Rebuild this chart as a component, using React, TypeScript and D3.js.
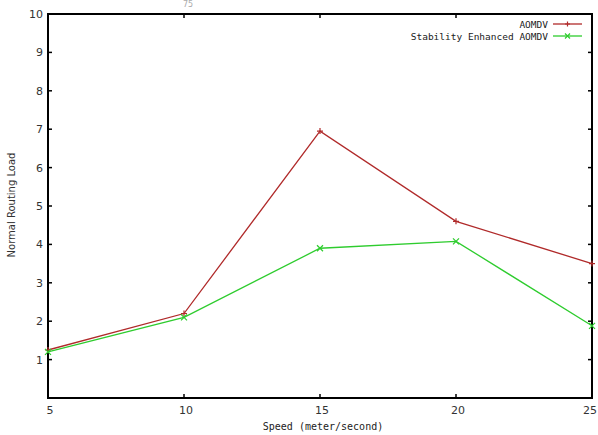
import React from "react";
import * as d3 from "d3";

const speeds = [5, 10, 15, 20, 25];
const aomdv = [1.25, 2.2, 6.95, 4.6, 3.5];
const stability = [1.2, 2.1, 3.9, 4.08, 1.88];
const xTicks = [5, 10, 15, 20, 25];
const yTicks = [1, 2, 3, 4, 5, 6, 7, 8, 9, 10];
const seriesNames = ["AOMDV", "Stability Enhanced AOMDV"];
const seriesColors = ["#b02a2a", "#2ecc2e"];

const W = 598, H = 435;
const L = 48, R = 592, T = 14, B = 398;

export default function App() {
  const x = d3.scaleLinear().domain([5, 25]).range([L, R]);
  const y = d3.scaleLinear().domain([0, 10]).range([B, T]);
  const line = d3.line<number>().x((_, i) => x(speeds[i])).y((d) => y(d));
  const series = [aomdv, stability];
  const tl = 4;
  const mono = "'DejaVu Sans Mono', monospace";
  const sans = "'DejaVu Sans', sans-serif";
  return (
    <svg width={W} height={H} style={{ position: "absolute", left: 0, top: 0, background: "#fff" }}>
      <rect x={0} y={0} width={W} height={H} fill="#fff" />
      <text x={188} y={7} fontFamily={sans} fontSize={8} fill="#aaa" textAnchor="middle">75</text>
      {/* ticks */}
      {xTicks.map((t, i) => {
        const last = i === xTicks.length - 1;
        return (
          <g key={"x" + t}>
            <line x1={x(t)} x2={x(t)} y1={B} y2={B - tl} stroke="#000" strokeWidth={1.5} />
            <line x1={x(t)} x2={x(t)} y1={T} y2={T + tl} stroke="#000" strokeWidth={1.5} />
            <text x={last ? W - 1 : x(t) + 2} y={414} fontFamily={sans} fontSize={11} fill="#333" textAnchor={last ? "end" : "middle"}>{t}</text>
          </g>
        );
      })}
      {yTicks.map((t) => (
        <g key={"y" + t}>
          <line x1={L} x2={L + tl} y1={y(t)} y2={y(t)} stroke="#000" strokeWidth={1.5} />
          <line x1={R} x2={R - tl} y1={y(t)} y2={y(t)} stroke="#000" strokeWidth={1.5} />
          <text x={L - 5} y={y(t) + 4} fontFamily={sans} fontSize={11} fill="#333" textAnchor="end">{t}</text>
        </g>
      ))}
      <rect x={L} y={T} width={R - L} height={B - T} fill="none" stroke="#000" strokeWidth={2} />
      {/* series */}
      {series.map((s, si) => (
        <g key={si}>
          <path d={line(s) || ""} fill="none" stroke={seriesColors[si]} strokeWidth={1.3} />
          {s.map((v, i) => {
            const cx = x(speeds[i]), cy = y(v), r = 3;
            return si === 0 ? (
              <path key={i} d={`M${cx - r},${cy}H${cx + r}M${cx},${cy - r}V${cy + r}`} stroke={seriesColors[si]} strokeWidth={1.2} />
            ) : (
              <path key={i} d={`M${cx - r},${cy - r}L${cx + r},${cy + r}M${cx - r},${cy + r}L${cx + r},${cy - r}`} stroke={seriesColors[si]} strokeWidth={1.2} />
            );
          })}
        </g>
      ))}
      {/* legend */}
      {seriesNames.map((n, i) => {
        const ly = 24 + i * 12;
        const lx1 = 553, lx2 = 582, mx = (lx1 + lx2) / 2, r = 2.5;
        return (
          <g key={n}>
            <text x={548} y={ly + 3.5} fontFamily={mono} fontSize={9.5} fill="#222" textAnchor="end">{n}</text>
            <line x1={lx1} x2={lx2} y1={ly} y2={ly} stroke={seriesColors[i]} strokeWidth={1.3} />
            {i === 0 ? (
              <path d={`M${mx - r},${ly}H${mx + r}M${mx},${ly - r}V${ly + r}`} stroke={seriesColors[i]} strokeWidth={1.2} />
            ) : (
              <path d={`M${mx - r},${ly - r}L${mx + r},${ly + r}M${mx - r},${ly + r}L${mx + r},${ly - r}`} stroke={seriesColors[i]} strokeWidth={1.2} />
            )}
          </g>
        );
      })}
      {/* axis titles */}
      <text x={323} y={430} fontFamily={mono} fontSize={10} fill="#222" textAnchor="middle">Speed (meter/second)</text>
      <text transform={`translate(15,${205}) rotate(-90)`} fontFamily={sans} fontSize={10} fill="#333" textAnchor="middle">Normal Routing Load</text>
    </svg>
  );
}
